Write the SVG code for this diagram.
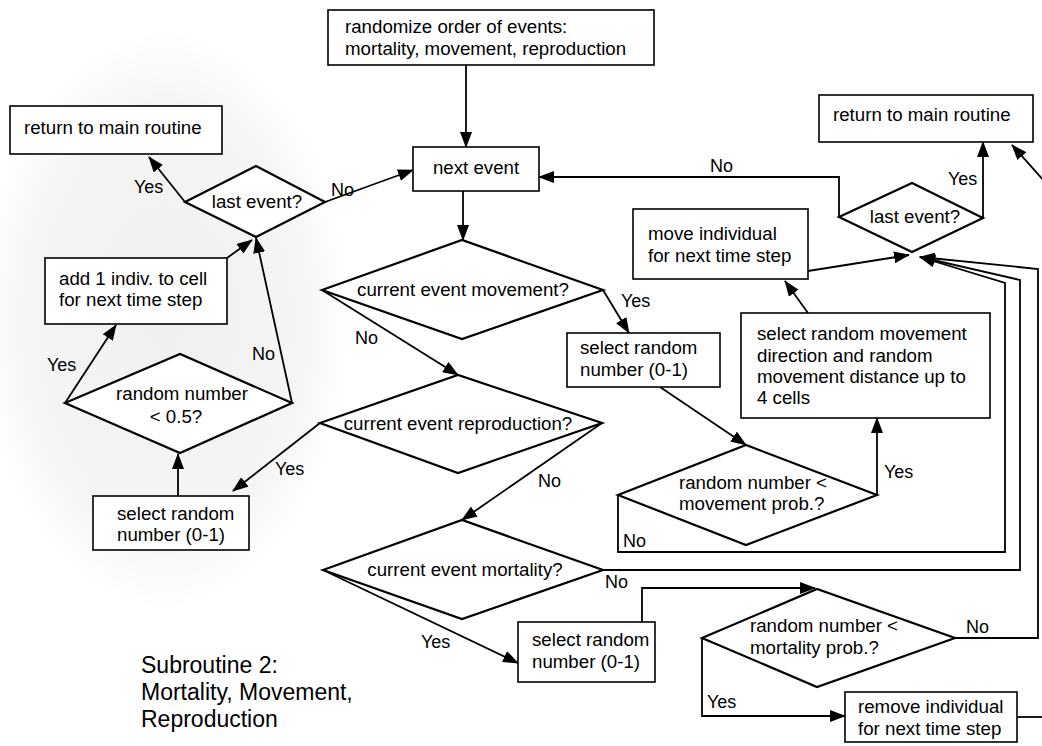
<svg xmlns="http://www.w3.org/2000/svg" width="1042" height="746" viewBox="0 0 1042 746">
  <style>
    .box { fill: #fff; stroke: #000; stroke-width: 1.6; }
    .dia { fill: #fff; stroke: #000; stroke-width: 2.2; stroke-linejoin: miter; }
    .t { font-family: "Liberation Sans", Arial, sans-serif; font-size: 18.7px; fill: #000; }
    .c { text-anchor: middle; }
    .lbl { font-family: "Liberation Sans", Arial, sans-serif; font-size: 18px; fill: #000; }
    .title { font-family: "Liberation Sans", Arial, sans-serif; font-size: 23px; fill: #000; }
    .wire { fill: none; stroke: #000; stroke-width: 1.8; }
    .arr { marker-end: url(#head); }
  </style>
  <defs>
    <marker id="head" markerUnits="userSpaceOnUse" markerWidth="16" markerHeight="12" refX="15" refY="6" orient="auto">
      <path d="M0,0 L16,6 L0,12 z" fill="#000"/>
    </marker>
    <radialGradient id="haze" cx="0.5" cy="0.5" r="0.5">
      <stop offset="0" stop-color="#000" stop-opacity="0.06"/>
      <stop offset="0.75" stop-color="#000" stop-opacity="0.04"/>
      <stop offset="1" stop-color="#000" stop-opacity="0"/>
    </radialGradient>
  </defs>

  <rect width="1042" height="746" fill="#fff"/>
  <!-- faint grey shading behind the reproduction branch -->
  <ellipse cx="165" cy="320" rx="185" ry="290" fill="url(#haze)"/>

  <!-- connectors -->
  <g id="connectors">
    <path class="wire arr" d="M466,65 V147"/>
    <path class="wire arr" d="M463,191 V240"/>
    <path class="wire arr" d="M603,290 L629,333"/>
    <path class="wire arr" d="M322,290 L458,375"/>
    <path class="wire arr" d="M602,423 L462,520"/>
    <path class="wire arr" d="M320,423 L233,491"/>
    <path class="wire arr" d="M178,496 V454"/>
    <path class="wire arr" d="M65,403 L116,325"/>
    <path class="wire arr" d="M292,403 L256,238"/>
    <path class="wire arr" d="M227,258 L252,240"/>
    <path class="wire arr" d="M185,202 L149,157"/>
    <path class="wire arr" d="M325,202 L413,170"/>
    <path class="wire arr" d="M323,570 L518,663"/>
    <path class="wire arr" d="M660,387 L746,445"/>
    <path class="wire arr" d="M877,495 V418"/>
    <path class="wire arr" d="M618,495 V552 H1005 V283 L920,257"/>
    <path class="wire arr" d="M603,570 H1020 V280 L920,257"/>
    <path class="wire arr" d="M955,638 H1038 V269 L920,257"/>
    <path class="wire arr" d="M642,622 V588 H815"/>
    <path class="wire arr" d="M702,638 V716 H845"/>
    <path class="wire" d="M1017,717 H1042"/>
    <path class="wire arr" d="M1046,183 L1012,145"/>
    <path class="wire arr" d="M808,313 L785,281"/>
    <path class="wire arr" d="M808,271 L909,255"/>
    <path class="wire arr" d="M983,218 V142"/>
    <path class="wire arr" d="M839,217 V177 H539"/>
  </g>

  <!-- branch labels -->
  <g id="labels">
    <text class="lbl" x="134" y="193">Yes</text>
    <text class="lbl" x="331" y="196">No</text>
    <text class="lbl" x="47" y="371">Yes</text>
    <text class="lbl" x="252" y="360">No</text>
    <text class="lbl" x="275" y="475">Yes</text>
    <text class="lbl" x="355" y="344">No</text>
    <text class="lbl" x="621" y="307">Yes</text>
    <text class="lbl" x="538" y="487">No</text>
    <text class="lbl" x="884" y="478">Yes</text>
    <text class="lbl" x="623" y="547">No</text>
    <text class="lbl" x="421" y="648">Yes</text>
    <text class="lbl" x="605" y="588">No</text>
    <text class="lbl" x="966" y="633">No</text>
    <text class="lbl" x="707" y="708">Yes</text>
    <text class="lbl" x="948" y="185">Yes</text>
    <text class="lbl" x="710" y="172">No</text>
  </g>

  <g id="randomize-order">
    <rect class="box" x="328" y="10" width="326" height="55"/>
    <text class="t" x="345" y="33">randomize order of events:</text>
    <text class="t" x="345" y="55">mortality, movement, reproduction</text>
  </g>

  <g id="next-event">
    <rect class="box" x="413" y="147" width="126" height="44"/>
    <text class="t c" x="476" y="174">next event</text>
  </g>

  <g id="return-left">
    <rect class="box" x="10" y="106" width="212" height="48"/>
    <text class="t" x="24" y="134">return to main routine</text>
  </g>

  <g id="last-event-left">
    <polygon class="dia" points="185,202 256,166 325,202 256,237"/>
    <text class="t c" x="257" y="208">last event?</text>
  </g>

  <g id="add-individual">
    <rect class="box" x="45" y="258" width="182" height="66"/>
    <text class="t" x="59" y="285">add 1 indiv. to cell</text>
    <text class="t" x="59" y="306">for next time step</text>
  </g>

  <g id="half-test">
    <polygon class="dia" points="65,403 180,354 292,403 180,453"/>
    <text class="t c" x="182" y="400">random number</text>
    <text class="t c" x="176" y="423">&lt; 0.5?</text>
  </g>

  <g id="select-random-repro">
    <rect class="box" x="93" y="496" width="156" height="54"/>
    <text class="t" x="117" y="520">select random</text>
    <text class="t" x="117" y="541">number (0-1)</text>
  </g>

  <g id="is-movement">
    <polygon class="dia" points="322,290 462,240 603,290 462,339"/>
    <text class="t c" x="463" y="296">current event movement?</text>
  </g>

  <g id="is-reproduction">
    <polygon class="dia" points="320,423 458,375 602,423 458,473"/>
    <text class="t c" x="458" y="430">current event reproduction?</text>
  </g>

  <g id="is-mortality">
    <polygon class="dia" points="323,570 462,520 603,570 462,619"/>
    <text class="t c" x="465" y="576">current event mortality?</text>
  </g>

  <g id="select-random-move">
    <rect class="box" x="567" y="333" width="153" height="54"/>
    <text class="t" x="580" y="354">select random</text>
    <text class="t" x="580" y="376">number (0-1)</text>
  </g>

  <g id="move-individual">
    <rect class="box" x="633" y="209" width="175" height="70"/>
    <text class="t" x="648" y="240">move individual</text>
    <text class="t" x="648" y="262">for next time step</text>
  </g>

  <g id="select-direction">
    <rect class="box" x="741" y="313" width="249" height="105"/>
    <text class="t" x="757" y="340">select random movement</text>
    <text class="t" x="757" y="362">direction and random</text>
    <text class="t" x="757" y="383">movement distance up to</text>
    <text class="t" x="757" y="404">4 cells</text>
  </g>

  <g id="last-event-right">
    <polygon class="dia" points="839,217 912,183 983,218 912,252"/>
    <text class="t c" x="915" y="223">last event?</text>
  </g>

  <g id="return-right">
    <rect class="box" x="819" y="95" width="214" height="47"/>
    <text class="t" x="833" y="121">return to main routine</text>
  </g>

  <g id="movement-test">
    <polygon class="dia" points="618,495 746,445 877,495 746,545"/>
    <text class="t" x="679" y="489">random number &lt;</text>
    <text class="t" x="679" y="510">movement prob.?</text>
  </g>

  <g id="select-random-mort">
    <rect class="box" x="518" y="622" width="137" height="60"/>
    <text class="t" x="532" y="646">select random</text>
    <text class="t" x="532" y="668">number (0-1)</text>
  </g>

  <g id="mortality-test">
    <polygon class="dia" points="702,638 817,589 955,638 817,687"/>
    <text class="t" x="750" y="632">random number &lt;</text>
    <text class="t" x="750" y="654">mortality prob.?</text>
  </g>

  <g id="remove-individual">
    <rect class="box" x="845" y="692" width="172" height="50"/>
    <text class="t" x="858" y="713">remove individual</text>
    <text class="t" x="858" y="735">for next time step</text>
  </g>

  <g id="title">
    <text class="title" x="141" y="673">Subroutine 2:</text>
    <text class="title" x="141" y="700">Mortality, Movement,</text>
    <text class="title" x="141" y="727">Reproduction</text>
  </g>
</svg>
